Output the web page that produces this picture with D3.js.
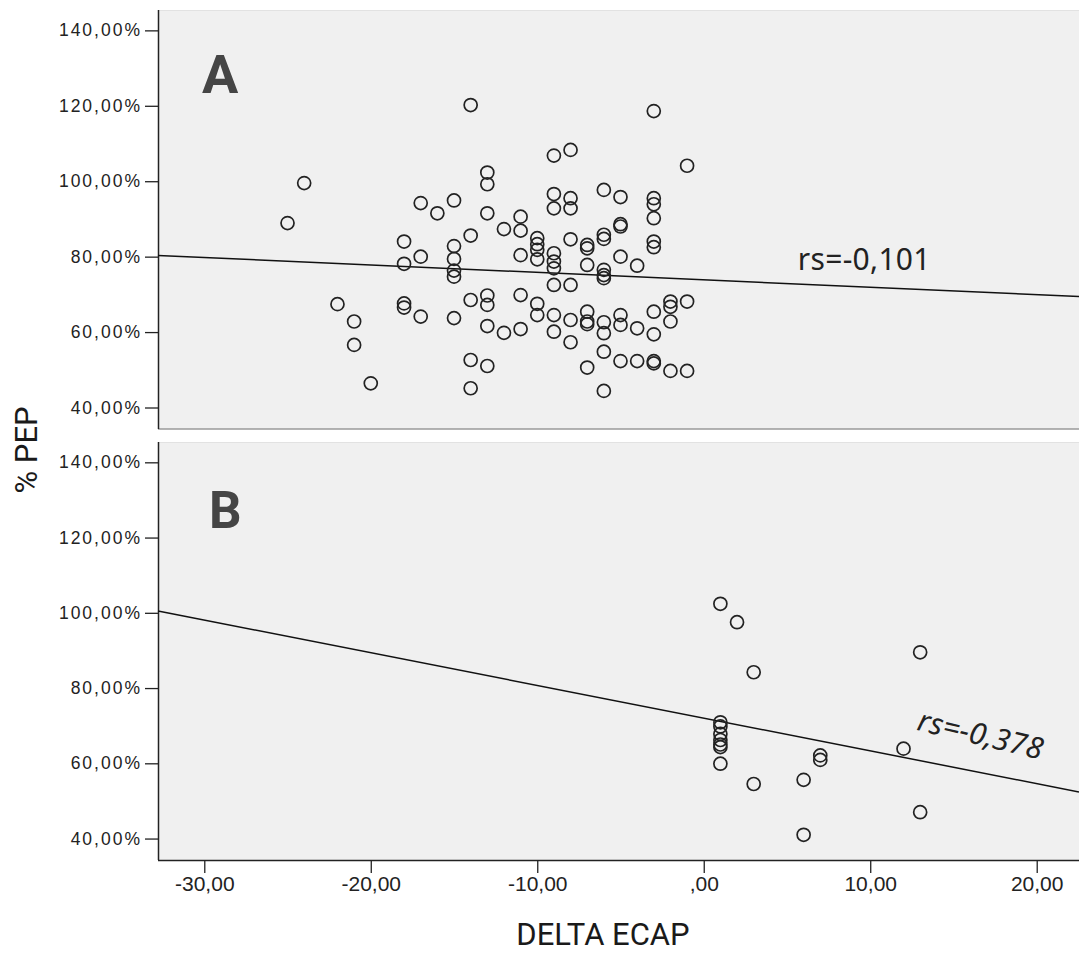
<!DOCTYPE html>
<html>
<head>
<meta charset="utf-8">
<script src="https://cdn.jsdelivr.net/npm/d3@7"></script>
<style>
  body { margin: 0; background: #fff; }
  .tickY text { font-family: "Liberation Sans", Arial, sans-serif; font-size: 17.5px; letter-spacing: 2px; fill: #222; }
  .tickX text { font-family: "Liberation Sans", Arial, sans-serif; font-size: 21px; fill: #222; }
</style>
</head>
<body>
<script>
// panel A : delta ECAP vs % PEP
const deltaA = [-25, -24, -22, -21, -21, -20,
  -18, -18, -18, -18, -17, -17, -17, -16,
  -15, -15, -15, -15, -15, -15,
  -14, -14, -14, -14, -14,
  -13, -13, -13, -13, -13, -13, -13,
  -12, -12,
  -11, -11, -11, -11, -11,
  -10, -10, -10, -10, -10, -10,
  -9, -9, -9, -9, -9, -9, -9, -9, -9,
  -8, -8, -8, -8, -8, -8, -8,
  -7, -7, -7, -7, -7, -7, -7,
  -6, -6, -6, -6, -6, -6, -6, -6, -6, -6,
  -5, -5, -5, -5, -5, -5, -5,
  -4, -4, -4,
  -3, -3, -3, -3, -3, -3, -3, -3, -3, -3,
  -2, -2, -2, -2,
  -1, -1, -1];
const pepA = [88.9, 99.5, 67.4, 62.8, 56.6, 46.4,
  84.0, 78.1, 67.6, 66.5, 94.2, 80.0, 64.1, 91.5,
  94.9, 82.8, 79.4, 76.3, 74.7, 63.7,
  120.2, 85.6, 68.5, 52.6, 45.1,
  102.3, 99.2, 91.5, 69.7, 67.2, 61.6, 51.0,
  87.3, 59.8,
  90.6, 86.9, 80.4, 69.8, 60.8,
  84.9, 83.3, 81.8, 79.3, 67.5, 64.5,
  106.8, 96.6, 92.8, 80.9, 78.7, 76.9, 72.5, 64.5, 60.1,
  108.3, 95.5, 92.8, 84.6, 72.5, 63.2, 57.3,
  83.1, 82.2, 77.8, 65.4, 62.8, 62.1, 50.6,
  97.7, 85.8, 84.7, 76.5, 75.1, 74.3, 62.6, 59.7, 54.8, 44.4,
  95.8, 88.6, 88.0, 80.0, 64.5, 61.9, 52.3,
  77.6, 61.0, 52.3,
  118.6, 95.5, 93.9, 90.2, 84.0, 82.5, 65.4, 59.4, 52.3, 51.7,
  68.1, 66.7, 62.8, 49.7,
  104.1, 68.1, 49.7];

// panel B
const deltaB = [1, 1, 1, 1, 1, 1, 1, 1, 2, 3, 3, 6, 6, 7, 7, 12, 13, 13];
const pepB = [102.4, 70.9, 69.8, 67.8, 66.2, 65.0, 64.3, 59.9, 97.5, 84.2, 54.5, 55.6, 41.0, 62.1, 60.9, 63.9, 89.5, 47.0];

// fit lines (intercept at delta=0, slope per unit)
const fitA = { intercept: 73.85, slope: -0.197, label: "rs=-0,101" };
const fitB = { intercept: 72.0, slope: -0.8695, label: "rs=-0,378" };

const xTicks = [-30, -20, -10, 0, 10, 20];
const yTicks = [40, 60, 80, 100, 120, 140];

const width = 1079, height = 953;
const plotLeft = 158, plotRight = 1079;
const xDomain = [-32.78, 22.54];
const yDomain = [34.3, 145.4];

const svg = d3.select("body").append("svg")
  .attr("width", width)
  .attr("height", height)
  .style("display", "block");

const x = d3.scaleLinear().domain(xDomain).range([plotLeft, plotRight]);

const fmtY = d => d.toFixed(2).replace(".", ",") + "%";
const fmtX = d => d === 0 ? ",00" : d.toFixed(2).replace(".", ",");

function drawPanel(top, bottom, deltas, peps, fit, letter, opts) {
  const y = d3.scaleLinear().domain(yDomain).range([bottom, top]);
  const g = svg.append("g");

  // background
  g.append("rect")
    .attr("x", plotLeft)
    .attr("y", top)
    .attr("width", plotRight - plotLeft)
    .attr("height", bottom - top)
    .attr("fill", "#f0f0f0");
  g.append("line")
    .attr("x1", plotLeft).attr("x2", plotRight)
    .attr("y1", top + 0.5).attr("y2", top + 0.5)
    .attr("stroke", "#e2e2e2");

  if (opts.bottomEdge) {
    g.append("line")
      .attr("x1", plotLeft).attr("x2", plotRight)
      .attr("y1", bottom).attr("y2", bottom)
      .attr("stroke", "#9a9a9a").attr("stroke-width", 1.5);
  }

  // y axis
  const yAxis = g.append("g")
    .attr("class", "tickY")
    .attr("transform", "translate(" + plotLeft + ",0)")
    .call(d3.axisLeft(y).tickValues(yTicks).tickFormat(fmtY).tickSize(13).tickPadding(3));
  yAxis.select(".domain").attr("stroke", "#222").attr("stroke-width", 1.5)
    .attr("d", "M0.5," + top + "V" + bottom);
  yAxis.selectAll(".tick line").attr("stroke", "#222").attr("stroke-width", 1.3);

  // fit line
  const lineData = xDomain.map(v => ({ dx: v, py: fit.intercept + fit.slope * v }));
  g.append("path")
    .datum(lineData)
    .attr("fill", "none")
    .attr("stroke", "#111")
    .attr("stroke-width", 1.5)
    .attr("d", d3.line().x(d => x(d.dx)).y(d => y(d.py)));

  // points
  g.selectAll("circle.pt")
    .data(deltas.map((d, i) => ({ dx: d, py: peps[i] })))
    .enter()
    .append("circle")
    .attr("class", "pt")
    .attr("cx", d => x(d.dx))
    .attr("cy", d => y(d.py))
    .attr("r", 6.5)
    .attr("fill", "none")
    .attr("stroke", "#222")
    .attr("stroke-width", 1.7);

  // panel letter
  g.append("text")
    .attr("x", opts.letterX)
    .attr("y", opts.letterY)
    .attr("font-family", "Roboto, 'Noto Sans', sans-serif")
    .attr("font-weight", "bold")
    .attr("font-size", opts.letterSize)
    .attr("fill", "#454545")
    .text(letter);

  // rs label
  const lx = x(opts.labelDx), ly = y(opts.labelPep);
  g.append("text")
    .attr("transform", "translate(" + lx + "," + ly + ") rotate(" + opts.labelRot + ")")
    .attr("font-family", "'Noto Sans', 'Open Sans', sans-serif")
    .attr("font-size", 30)
    .attr("letter-spacing", 0.3)
    .attr("font-style", opts.italic ? "italic" : "normal")
    .attr("fill", "#222")
    .text(fit.label);

  return { g, y };
}

drawPanel(10, 429, deltaA, pepA, fitA, "A",
  { bottomEdge: true, letterX: 202, letterY: 93, letterSize: 54, labelDx: 5.65, labelPep: 76.4, labelRot: 0, italic: false });

drawPanel(442, 860, deltaB, pepB, fitB, "B",
  { bottomEdge: false, letterX: 209, letterY: 528, letterSize: 51, labelDx: 12.75, labelPep: 68.9, labelRot: 13.5, italic: true });

// x axis on bottom panel
const xAxis = svg.append("g")
  .attr("class", "tickX")
  .attr("transform", "translate(0,860)")
  .call(d3.axisBottom(x).tickValues(xTicks).tickFormat(fmtX).tickSize(13).tickPadding(3));
xAxis.select(".domain").attr("stroke", "#222").attr("stroke-width", 1.5)
  .attr("d", "M" + plotLeft + ",0.5H" + plotRight);
xAxis.selectAll(".tick line").attr("stroke", "#222").attr("stroke-width", 1.3);

// axis titles
svg.append("text")
  .attr("x", 603)
  .attr("y", 945)
  .attr("text-anchor", "middle")
  .attr("font-family", "Roboto, 'Noto Sans', sans-serif")
  .attr("font-size", 31)
  .attr("fill", "#1a1a1a")
  .text("DELTA ECAP");

svg.append("text")
  .attr("transform", "translate(37,450) rotate(-90)")
  .attr("text-anchor", "middle")
  .attr("font-family", "Roboto, 'Noto Sans', sans-serif")
  .attr("font-size", 31)
  .attr("fill", "#1a1a1a")
  .text("% PEP");
</script>
</body>
</html>
